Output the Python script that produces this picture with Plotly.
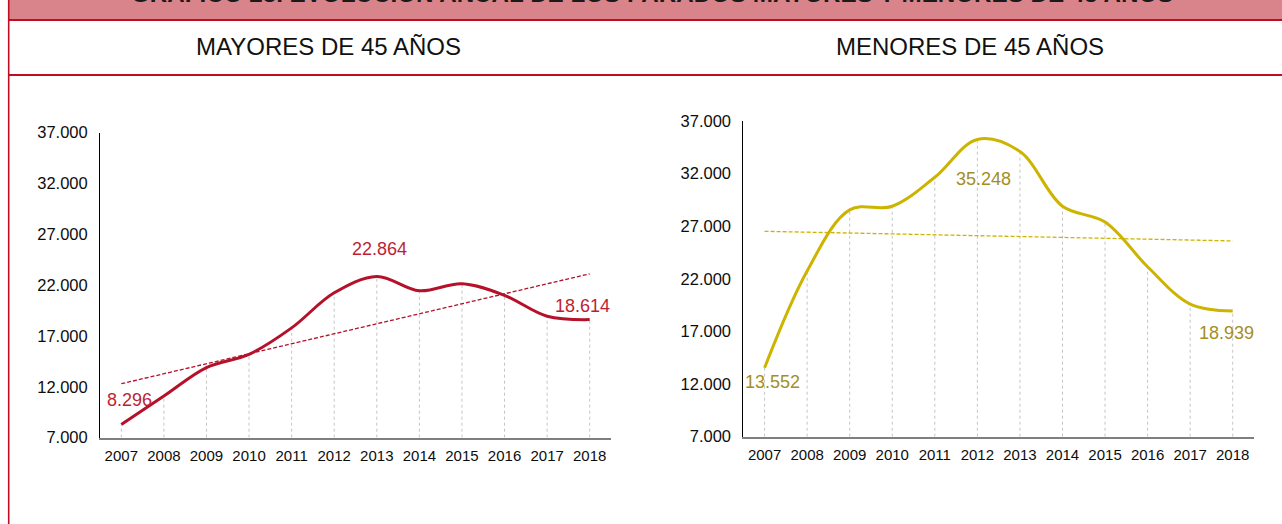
import numpy as np
import plotly.graph_objects as go

# Annual unemployment figures by age group
years = ["2007", "2008", "2009", "2010", "2011", "2012",
         "2013", "2014", "2015", "2016", "2017", "2018"]
mayores_45 = [8296, 11100, 13900, 15200, 17800, 21250,
              22864, 21450, 22150, 21000, 18950, 18614]
menores_45 = [13552, 22750, 28550, 28900, 31650, 35248,
              34100, 28900, 27400, 23150, 19600, 18939]

# Years whose value carries a data label
labels_mayores = ["2007", "2013", "2018"]
labels_menores = ["2007", "2012", "2018"]

main_title = "GRÁFICO 23. EVOLUCIÓN ANUAL DE LOS PARADOS MAYORES Y MENORES DE 45 AÑOS"
sub_titles = ["MAYORES DE 45 AÑOS", "MENORES DE 45 AÑOS"]

W, H = 1282, 524
FONT = "Liberation Sans, Arial, sans-serif"
RED_LINE = "#B5112B"
RED_LABEL = "#BE1E34"
YEL_LINE = "#CCB400"
YEL_LABEL = "#A38F1C"
FRAME = "#C00D26"
PINK = "#D9848B"


def px_x(p):
    return p / W


def px_y(p):
    return 1 - p / H


def fmt(v):
    return f"{v:,}".replace(",", ".")


fig = go.Figure()


def add_panel(values, color, xa, ya):
    xs, ys = [], []
    for yr, v in zip(years, values):
        xs += [yr, yr, None]
        ys += [7000, v, None]
    # drop lines from the axis to each point
    fig.add_trace(go.Scatter(x=xs, y=ys, mode="lines", xaxis=xa, yaxis=ya,
                             line=dict(color="#C4C4C4", width=1, dash="dot"),
                             hoverinfo="skip", showlegend=False))
    # linear trend
    idx = np.arange(len(values))
    slope, intercept = np.polyfit(idx, values, 1)
    trend = intercept + slope * idx
    fig.add_trace(go.Scatter(x=[years[0], years[-1]], y=[trend[0], trend[-1]],
                             mode="lines", xaxis=xa, yaxis=ya,
                             line=dict(color=color, width=1.3, dash="4px,2px"),
                             hoverinfo="skip", showlegend=False))
    # smoothed series
    fig.add_trace(go.Scatter(x=years, y=values, mode="lines", xaxis=xa, yaxis=ya,
                             line=dict(color=color, width=3, shape="spline", smoothing=1),
                             showlegend=False))


add_panel(mayores_45, RED_LINE, "x", "y")
add_panel(menores_45, YEL_LINE, "x2", "y2")

# data labels (category positions given by index)
offsets_mayores = {"2007": (8, 25), "2013": (3, 27), "2018": (-7, 14)}
offsets_menores = {"2007": (8, -14), "2012": (6, -40), "2018": (-6, -22)}
for yr in labels_mayores:
    i = years.index(yr)
    v = mayores_45[i]
    dx, dy = offsets_mayores[yr]
    fig.add_annotation(x=i, y=v, xref="x", yref="y", text=fmt(v), showarrow=False,
                       xshift=dx, yshift=dy,
                       font=dict(family=FONT, size=18, color=RED_LABEL))
for yr in labels_menores:
    i = years.index(yr)
    v = menores_45[i]
    dx, dy = offsets_menores[yr]
    fig.add_annotation(x=i, y=v, xref="x2", yref="y2", text=fmt(v), showarrow=False,
                       xshift=dx, yshift=dy,
                       font=dict(family=FONT, size=18, color=YEL_LABEL))

# headings
fig.add_annotation(x=px_x(652), y=px_y(-6.5), xref="paper", yref="paper",
                   text=f"<b>{main_title}</b>", showarrow=False,
                   xanchor="center", yanchor="middle",
                   font=dict(family=FONT, size=24.2, color="#1A1A1A"))
for cx, txt in zip([328.5, 970.5], sub_titles):
    fig.add_annotation(x=px_x(cx), y=px_y(47), xref="paper", yref="paper",
                       text=txt, showarrow=False, xanchor="center", yanchor="middle",
                       font=dict(family=FONT, size=24, color="#111111"))

# frame
shapes = [
    dict(type="rect", xref="paper", yref="paper", x0=px_x(9), x1=1, y0=px_y(19), y1=1,
         fillcolor=PINK, line=dict(width=0), layer="below"),
    dict(type="line", xref="paper", yref="paper", x0=px_x(9), x1=1, y0=px_y(20), y1=px_y(20),
         line=dict(color=FRAME, width=2)),
    dict(type="line", xref="paper", yref="paper", x0=px_x(9), x1=1, y0=px_y(75), y1=px_y(75),
         line=dict(color=FRAME, width=2)),
    dict(type="line", xref="paper", yref="paper", x0=px_x(8.7), x1=px_x(8.7), y0=0, y1=1,
         line=dict(color=FRAME, width=1.6)),
]

xaxis_common = dict(type="category", range=[-0.5, 11.5], showgrid=False, zeroline=False,
                    showline=True, linecolor="#7F7F7F", linewidth=2, ticks="",
                    tickfont=dict(family=FONT, size=15, color="#0D0D0D"),
                    ticklabelstandoff=3, fixedrange=True, automargin=False)
yaxis_common = dict(range=[7000, 37000], dtick=5000, tick0=7000, tickformat=",d",
                    showgrid=False, zeroline=False, showline=True, linecolor="#000000",
                    linewidth=1, ticks="", ticklabelstandoff=8, automargin=False,
                    tickfont=dict(family=FONT, size=16.5, color="#0D0D0D"), fixedrange=True)

fig.update_layout(
    width=W, height=H,
    margin=dict(l=0, r=0, t=0, b=0, pad=0, autoexpand=False),
    paper_bgcolor="white", plot_bgcolor="white",
    separators=",.",
    showlegend=False,
    shapes=shapes,
    xaxis=dict(domain=[px_x(100), px_x(611)], anchor="y", **xaxis_common),
    yaxis=dict(domain=[px_y(437.7), px_y(132.7)], anchor="x", **yaxis_common),
    xaxis2=dict(domain=[px_x(743.3), px_x(1254)], anchor="y2", **xaxis_common),
    yaxis2=dict(domain=[px_y(436.7), px_y(121)], anchor="x2", **yaxis_common),
)

fig.write_html("out.html")
